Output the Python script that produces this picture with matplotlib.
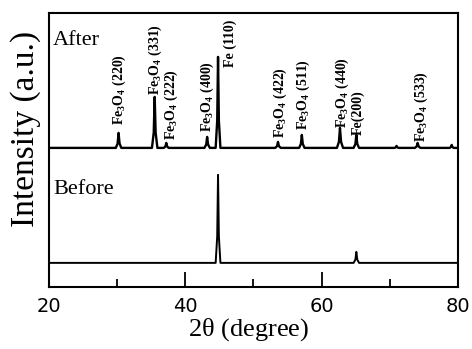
import numpy as np
import matplotlib.pyplot as plt

plt.rcParams['font.family'] = 'serif'
plt.rcParams['font.serif'] = ['Liberation Serif', 'DejaVu Serif']
plt.rcParams['mathtext.default'] = 'regular'

# peaks: position (2theta), top, half width at base
after_pos = [30.2, 35.5, 37.2, 43.2, 44.8, 53.6, 57.1, 62.7, 65.1, 71.0, 74.1, 79.1]
after_top = [154, 190, 144, 150, 230, 145, 152, 159, 152, 141, 144, 142]
after_hw = [0.4, 0.4, 0.35, 0.4, 0.35, 0.4, 0.4, 0.45, 0.4, 0.3, 0.4, 0.3]
after_base = 139

before_pos = [44.8, 65.1]
before_top = [112, 35]
before_hw = [0.35, 0.4]
before_base = 24

labels = ['Fe$_3$O$_4$ (220)', 'Fe$_3$O$_4$ (331)', 'Fe$_3$O$_4$ (222)',
          'Fe$_3$O$_4$ (400)', 'Fe (110)', 'Fe$_3$O$_4$ (422)',
          'Fe$_3$O$_4$ (511)', 'Fe$_3$O$_4$ (440)', 'Fe(200)', 'Fe$_3$O$_4$ (533)']
label_x = [30.27, 35.55, 37.9, 43.3, 46.55, 53.9, 57.26, 63.0, 65.3, 74.7]
label_y = [162, 192, 147, 155, 220, 149, 157, 159, 152, 145]


def trace(pos, top, hw, base):
    xs = [20.0]
    ys = [base]
    for p, t, w in zip(pos, top, hw):
        xs += [p - w, p - w * 0.35, p, p + w * 0.35, p + w]
        ys += [base, base + (t - base) * 0.3, t, base + (t - base) * 0.3, base]
    xs.append(80.0)
    ys.append(base)
    return xs, ys


fig = plt.figure(figsize=(4.72, 3.49), dpi=100)
ax = fig.add_axes([0.104, 0.178, 0.866, 0.785])

x1, y1 = trace(after_pos, after_top, after_hw, after_base)
x2, y2 = trace(before_pos, before_top, before_hw, before_base)
ax.plot(x1, y1, color='black', linewidth=1.7)
ax.plot(x2, y2, color='black', linewidth=1.4)

for lab, lx, ly in zip(labels, label_x, label_y):
    ax.text(lx, ly, lab, rotation=90, ha='center', va='bottom',
            fontsize=10, fontweight='bold')

ax.text(0.01, 0.935, 'After', transform=ax.transAxes, fontsize=16, va='top')
ax.text(0.01, 0.39, 'Before', transform=ax.transAxes, fontsize=16, va='top')

ax.set_xlim(20, 80)
ax.set_ylim(0, 274)
ax.set_xticks([20, 40, 60, 80])
ax.set_xticks([30, 50, 70], minor=True)
ax.set_yticks([])
ax.tick_params(axis='x', which='major', direction='in', length=11, width=1.3,
               labelsize=14, pad=7, labelfontfamily='DejaVu Sans')
ax.tick_params(axis='x', which='minor', direction='in', length=6, width=1.3)
for s in ax.spines.values():
    s.set_linewidth(1.5)

ax.set_xlabel(r'2$\theta$ (degree)', fontsize=19)
ax.xaxis.set_label_coords(0.487, -0.108)
ax.set_ylabel('Intensity (a.u.)', fontsize=24)
ax.yaxis.set_label_coords(-0.02, 0.577)

fig.savefig('out.png', dpi=100)
